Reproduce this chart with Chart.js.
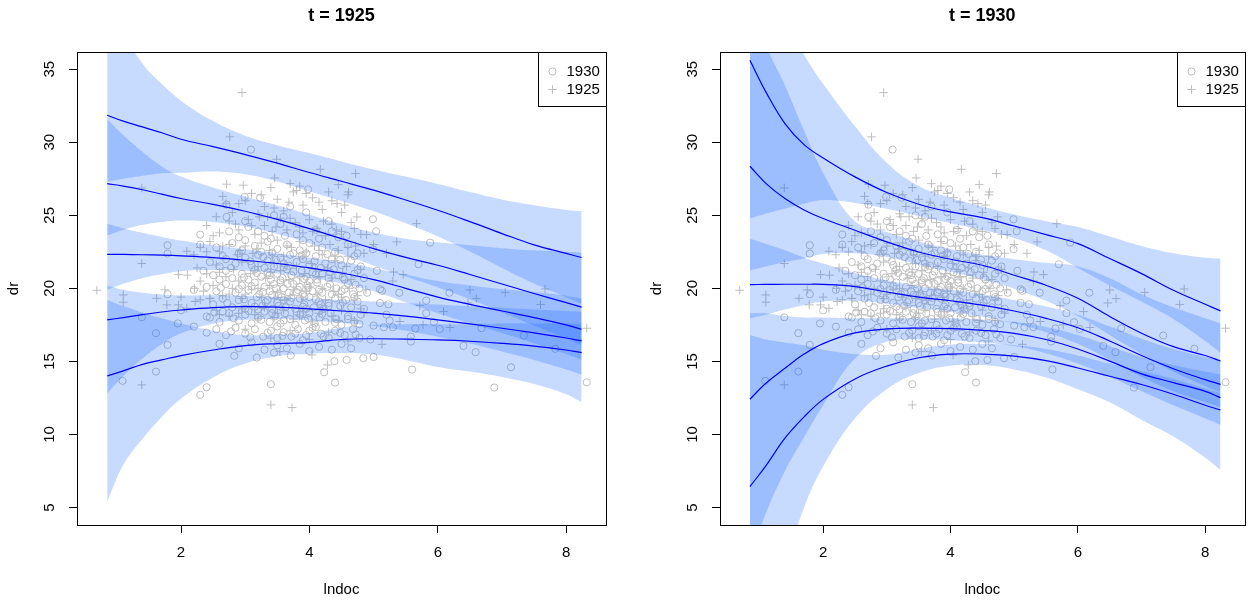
<!DOCTYPE html>
<html>
<head>
<meta charset="utf-8">
<title>dr vs lndoc quantile curves</title>
<script src="https://cdn.jsdelivr.net/npm/chart.js@4.4.1/dist/chart.umd.min.js"></script>
<style>
  html, body { margin: 0; padding: 0; background: #ffffff; }
  #wrap { position: relative; width: 1250px; height: 604px; overflow: hidden; }
  canvas { position: absolute; top: 0; }
</style>
</head>
<body>
<div id="wrap">
  <canvas id="c1925" width="625" height="604" style="left:0px"></canvas>
  <canvas id="c1930" width="625" height="604" style="left:625px"></canvas>
</div>
<script>
// ---- observations: lndoc (x) and dr (y) ----
const pts1930 = [
  [3.09,29.5],[3.98,26.78],[4.99,24.73],[5.04,23.91],[5.88,23.13],[5.7,21.65],[4.99,22.68],[2.99,26.26],
  [3.23,26.21],[2.71,25.73],[2.71,24.89],[2.3,23.68],[1.79,22.95],[1.79,22.38],[2.3,23.0],[5.1,19.94],
  [1.79,19.6],[1.39,18.02],[1.61,16.93],[1.79,16.13],[1.61,14.3],[1.09,13.67],[2.4,13.23],[2.3,12.71],
  [2.2,17.38],[2.4,16.97],[2.4,18.07],[2.83,15.38],[3.18,15.26],[3.4,13.44],[3.71,15.4],[4.23,14.26],
  [4.4,13.55],[4.39,15.01],[4.58,15.1],[4.84,15.22],[5.58,16.36],[5.58,16.7],[5.6,14.44],[6.4,16.06],
  [6.59,15.63],[6.88,13.21],[7.14,14.6],[7.34,16.77],[8.32,13.57],[6.18,19.7],[5.82,19.16],[5.94,17.68],
  [6.03,17.22],[5.65,17.25],[5.3,17.34],[5.16,17.34],[5.0,17.45],[5.23,18.91],[5.13,19.83],[6.68,17.27],
  [7.83,15.86],[5.82,18.3],[2.0,18.5],[2.2,19.9],[1.95,17.6],[5.1,19.0],[5.2,18.2],[5.05,21.2],
  [5.4,19.7],[5.25,17.8],[4.95,16.5],[5.0,15.3],
  [2.75,23.9],[3.05,24.2],[3.3,23.6],[3.55,24.4],[3.8,23.7],[4.1,24.0],[4.45,23.5],[3.0,23.3],
  [3.45,25.0],[3.7,25.6],[3.95,25.2],[4.3,24.6],
  [2.55,22.8],[2.8,23.1],[2.95,22.6],[3.15,22.9],[3.35,23.2],[3.5,22.7],[3.65,23.0],[3.85,22.6],
  [4.0,23.1],[4.2,22.8],[4.4,22.5],[4.6,23.0],[4.75,22.4],[3.25,22.5],[3.75,22.4],
  [2.45,21.8],[2.65,22.2],[2.85,21.7],[3.0,22.1],[3.1,21.6],[3.2,22.3],[3.35,21.9],[3.45,21.5],
  [3.55,22.1],[3.6,21.7],[3.7,22.3],[3.8,21.8],[3.9,22.0],[4.0,21.6],[4.1,22.2],[4.25,21.7],
  [4.35,22.0],[4.5,21.6],[4.65,21.9],[4.8,21.5],[2.6,21.5],[3.95,22.4],
  [2.5,20.9],[2.7,21.2],[2.8,20.7],[2.95,21.0],[3.05,20.6],[3.15,21.3],[3.25,20.8],[3.35,21.1],
  [3.4,20.6],[3.5,21.0],[3.58,20.7],[3.65,21.3],[3.72,20.9],[3.8,20.5],[3.88,21.2],[3.95,20.8],
  [4.05,21.1],[4.12,20.6],[4.2,21.0],[4.3,20.7],[4.38,21.3],[4.45,20.9],[4.55,20.6],[4.7,21.0],
  [4.85,20.7],[2.35,21.2],[3.3,21.4],[4.0,20.5],
  [2.4,20.1],[2.55,19.8],[2.7,20.3],[2.85,19.7],[2.95,20.2],[3.05,19.9],[3.15,20.4],[3.22,19.6],
  [3.3,20.1],[3.38,19.8],[3.45,20.3],[3.52,19.6],[3.6,20.0],[3.68,19.7],[3.75,20.3],[3.82,19.9],
  [3.9,19.6],[3.97,20.2],[4.05,19.8],[4.12,20.4],[4.2,19.7],[4.28,20.1],[4.35,19.6],[4.42,20.0],
  [4.5,19.8],[4.6,20.3],[4.68,19.6],[4.78,20.0],[4.9,19.7],[3.55,20.4],[3.85,20.1],
  [2.5,18.9],[2.65,19.3],[2.8,18.7],[2.9,19.2],[3.0,18.6],[3.1,19.0],[3.18,19.4],[3.27,18.8],
  [3.35,19.2],[3.42,18.6],[3.5,19.0],[3.57,19.4],[3.63,18.7],[3.7,19.1],[3.78,18.6],[3.85,19.3],
  [3.92,18.9],[4.0,19.4],[4.07,18.7],[4.15,19.1],[4.22,18.6],[4.3,19.0],[4.4,19.3],[4.48,18.8],
  [4.57,19.2],[4.65,18.7],[4.75,19.1],[4.85,18.6],[3.2,18.55],[3.95,18.6],
  [2.45,18.0],[2.6,17.7],[2.75,18.3],[2.9,17.8],[3.0,18.2],[3.1,17.6],[3.2,18.0],[3.3,18.4],
  [3.38,17.7],[3.47,18.1],[3.55,17.6],[3.62,18.3],[3.7,17.9],[3.78,17.5],[3.86,18.2],[3.93,17.8],
  [4.0,18.3],[4.08,17.6],[4.16,18.0],[4.25,17.7],[4.33,18.3],[4.42,17.9],[4.5,17.5],[4.6,18.1],
  [4.7,17.7],[4.8,18.2],[2.65,18.4],
  [2.55,17.2],[2.7,16.8],[2.85,17.3],[3.0,16.9],[3.15,17.2],[3.28,16.7],[3.4,17.1],[3.5,16.6],
  [3.6,17.0],[3.72,16.7],[3.82,17.2],[3.95,16.8],[4.05,17.3],[4.18,16.9],[4.3,16.6],[4.4,17.1],
  [4.55,16.8],[4.68,17.2],[4.78,16.6],
  [2.6,16.2],[2.9,15.9],[3.1,16.3],[3.3,15.8],[3.5,16.1],[3.65,15.9],[3.85,16.2],[4.0,15.7],
  [4.15,16.0],[4.35,15.8],[4.5,16.2],[4.65,15.9],[3.45,15.6],
  [2.7,22.0],[2.9,22.4],[3.08,21.85],[3.28,22.15],[3.48,21.95],[3.68,21.55],[3.88,22.25],[4.08,21.85],
  [4.28,22.35],[4.48,21.95],[4.7,22.2],[3.42,22.45],
  [2.6,20.6],[2.78,21.4],[2.98,20.75],[3.18,21.05],[3.38,20.9],[3.55,20.55],[3.75,21.15],[3.92,20.65],
  [4.1,20.95],[4.32,21.1],[4.52,20.75],[4.75,21.25],[3.6,21.45],[4.18,21.4],
  [2.62,20.05],[2.9,19.95],[3.1,20.15],[3.28,19.75],[3.48,20.0],[3.66,20.3],[3.8,19.75],[3.98,20.05],
  [4.15,19.9],[4.32,20.3],[4.55,19.95],[4.72,20.25],[3.42,19.55],[3.92,19.45],
  [2.72,19.0],[2.98,19.25],[3.15,18.75],[3.32,19.05],[3.52,18.8],[3.72,19.35],[3.9,18.75],[4.1,19.25],
  [4.3,18.8],[4.52,19.05],[4.7,19.4],[3.6,19.2],[4.18,18.9],
  [2.52,18.35],[2.82,17.95],[3.05,18.45],[3.25,17.85],[3.42,18.3],[3.6,17.8],[3.8,18.4],[3.98,17.95],
  [4.2,18.25],[4.4,17.65],[4.6,17.9],[4.78,17.55],[3.5,17.4],[4.1,17.35],
  [2.78,17.05],[3.08,16.65],[3.35,16.95],[3.58,16.75],[3.78,16.9],[4.0,17.1],[4.22,16.7],[4.48,16.95],
  [4.72,16.85],[3.9,16.45],
  [2.9,23.5],[3.2,23.9],[3.4,23.4],[3.62,23.6],[3.9,23.3],[4.15,23.4],[4.35,23.9],[4.58,23.6],
  [3.0,24.6],[3.6,24.9]
];
const pts1925 = [
  [2.95,33.4],[2.76,30.37],[3.49,28.84],[4.17,28.15],[4.72,27.86],[3.46,27.56],[2.71,27.13],[2.97,27.06],
  [1.39,26.87],[3.7,27.17],[3.8,26.7],[4.43,25.8],[4.61,26.6],[4.74,24.89],[5.67,24.43],[5.36,23.18],
  [4.89,23.68],[5.31,21.12],[5.46,20.94],[1.39,21.7],[2.09,22.54],[1.96,20.94],[0.69,19.87],[1.1,19.55],
  [1.1,19.05],[1.62,19.32],[1.78,18.87],[1.96,18.87],[2.09,18.64],[2.22,19.1],[2.3,19.21],[2.45,19.32],
  [2.21,20.0],[1.39,13.39],[3.4,12.02],[3.73,11.84],[4.28,14.76],[5.13,16.17],[5.41,17.73],[5.77,17.5],
  [6.09,18.41],[6.19,17.32],[8.32,17.27],[7.05,19.73],[6.5,19.89],[7.67,19.96],[5.72,18.82],[3.54,15.67],
  [4.04,15.44],[6.47,19.0],[6.6,19.3],[7.6,18.9],[2.0,19.4],[1.75,19.9],[5.3,20.5],[5.2,22.4],[5.0,23.0],
  [2.65,26.3],[2.9,25.8],[3.1,26.5],[3.3,25.6],[3.5,26.1],[3.6,25.3],[3.75,26.6],[3.9,25.7],
  [4.05,26.2],[4.2,25.4],[4.35,26.0],[4.5,25.2],[4.6,26.4],[3.2,25.1],[3.4,26.9],[2.8,25.2],
  [4.45,27.1],[3.85,27.0],
  [2.4,24.3],[2.6,23.8],[2.75,24.6],[2.9,24.0],[3.05,24.7],[3.15,23.7],[3.3,24.3],[3.42,23.9],
  [3.55,24.8],[3.65,24.0],[3.78,24.5],[3.9,23.8],[4.0,24.7],[4.12,24.1],[4.25,23.6],[4.35,24.4],
  [4.5,23.9],[4.65,24.5],[4.8,23.7],[2.5,23.6],[3.35,24.9],
  [2.3,22.8],[2.45,23.2],[2.6,22.5],[2.75,23.0],[2.88,22.3],[3.0,22.9],[3.12,22.4],[3.25,23.1],
  [3.38,22.6],[3.5,23.3],[3.6,22.2],[3.72,22.8],[3.85,23.2],[3.95,22.5],[4.08,22.9],[4.2,22.3],
  [4.32,23.0],[4.45,22.6],[4.6,22.2],[4.72,22.9],[4.85,22.4],[2.2,22.3],
  [2.25,21.4],[2.4,21.0],[2.55,21.6],[2.7,20.8],[2.82,21.3],[2.95,21.8],[3.08,21.0],[3.2,21.5],
  [3.32,20.7],[3.45,21.7],[3.55,21.2],[3.68,20.6],[3.8,21.5],[3.92,21.0],[4.03,21.7],[4.15,20.8],
  [4.28,21.4],[4.4,21.9],[4.52,21.1],[4.65,20.6],[4.8,21.3],[2.1,20.9],
  [2.35,19.8],[2.5,20.2],[2.65,19.5],[2.8,20.0],[2.95,19.3],[3.1,19.9],[3.25,19.4],[3.38,20.2],
  [3.5,19.7],[3.62,19.2],[3.75,19.9],[3.88,19.4],[4.0,20.1],[4.12,19.6],[4.25,19.2],[4.38,19.8],
  [4.5,19.4],[4.62,20.0],[4.75,19.5],[4.88,19.9],
  [2.55,18.5],[2.75,18.1],[2.95,18.6],[3.15,18.2],[3.3,18.7],[3.45,18.0],[3.6,18.5],[3.75,17.9],
  [3.9,18.4],[4.05,17.7],[4.2,18.6],[4.35,18.1],[4.5,18.5],[4.7,17.8],[4.85,18.3],
  [3.0,17.2],[3.4,16.6],[3.7,17.1],[4.0,16.5],[4.3,17.0],[4.6,16.4],
  [2.7,25.8],[3.0,26.0],[3.25,26.4],[3.45,25.5],[3.68,25.9],[3.95,26.5],[4.15,25.9],[4.3,26.6],[4.55,25.7],
  [2.55,24.9],[2.85,24.4],[3.1,24.3],[3.22,24.9],[3.48,24.2],[3.7,24.8],[3.85,24.2],[4.05,23.9],[4.22,24.6],
  [4.42,24.0],[4.7,24.1],
  [2.4,22.5],[2.65,22.9],[2.92,22.6],[3.18,22.7],[3.42,22.3],[3.65,22.9],[3.9,22.2],[4.15,22.6],[4.4,22.2],[4.6,22.8],
  [2.3,20.5],[2.6,21.1],[2.9,20.5],[3.15,21.2],[3.4,21.1],[3.62,21.6],[3.85,20.8],[4.1,21.3],[4.35,20.7],[4.58,21.5],
  [2.45,19.3],[2.75,19.6],[3.0,19.6],[3.2,20.0],[3.45,19.3],[3.7,19.5],[3.95,19.8],[4.2,20.0],[4.45,19.6],[4.7,19.2],
  [2.6,18.2],[2.9,18.3],[3.2,17.9],[3.5,18.3],[3.85,18.1],[4.15,18.3],[4.45,17.8],[4.8,18.6]
];

// ---- fitted curves, evaluated on a common lndoc grid ----
const gridX = [0.85, 1.1, 1.4, 1.7, 2.0, 2.5, 3.0, 3.5, 4.0, 4.5, 5.0, 5.5, 6.0, 6.5, 7.0, 7.5, 8.0, 8.24];

// t = 1925: five quantile curves and their bands (upper / lower)
const q1925_1 = [31.85, 31.45, 31.05, 30.65, 30.21, 29.7, 29.16, 28.57, 27.93, 27.33, 26.72, 26.05, 25.35, 24.57, 23.75, 22.98, 22.39, 22.11];
const q1925_2 = [27.17, 27.0, 26.75, 26.45, 26.15, 25.75, 25.28, 24.72, 24.09, 23.4, 22.72, 22.12, 21.58, 20.95, 20.3, 19.65, 19.02, 18.71];
const q1925_3 = [22.33, 22.32, 22.3, 22.27, 22.22, 22.1, 21.92, 21.7, 21.4, 21.05, 20.6, 20.0, 19.4, 18.9, 18.45, 18.0, 17.5, 17.2];
const q1925_4 = [17.84, 18.0, 18.2, 18.38, 18.52, 18.68, 18.75, 18.72, 18.6, 18.45, 18.3, 18.1, 17.84, 17.57, 17.27, 16.95, 16.6, 16.4];
const q1925_5 = [14.0, 14.35, 14.8, 15.1, 15.4, 15.78, 16.08, 16.22, 16.3, 16.5, 16.55, 16.52, 16.47, 16.38, 16.24, 16.05, 15.78, 15.6];

const hi1925_1 = [41.0, 37.6, 35.4, 34.0, 32.85, 31.45, 30.45, 29.8, 29.26, 28.69, 28.14, 27.65, 27.15, 26.6, 26.09, 25.69, 25.37, 25.28];
const lo1925_1 = [27.3, 27.5, 27.7, 27.88, 27.91, 28.0, 27.81, 27.32, 26.63, 25.98, 25.27, 24.45, 23.55, 22.52, 21.4, 20.33, 19.39, 18.94];
const hi1925_2 = [31.6, 30.5, 29.35, 28.35, 27.65, 26.9, 26.28, 25.67, 25.04, 24.4, 23.82, 23.4, 23.15, 22.95, 22.75, 22.6, 22.5, 22.45];
const lo1925_2 = [23.63, 24.0, 24.35, 24.55, 24.65, 24.55, 24.23, 23.72, 23.09, 22.35, 21.57, 20.82, 20.08, 19.25, 18.35, 17.45, 16.57, 16.11];
const hi1925_3 = [24.43, 24.12, 23.8, 23.52, 23.27, 22.95, 22.67, 22.4, 22.1, 21.8, 21.4, 20.95, 20.5, 20.2, 19.95, 19.75, 19.5, 19.3];
const lo1925_3 = [19.9, 20.32, 20.7, 20.97, 21.17, 21.25, 21.2, 21.02, 20.72, 20.33, 19.8, 19.05, 18.3, 17.6, 16.95, 16.25, 15.5, 15.1];
const hi1925_4 = [20.2, 19.9, 19.7, 19.58, 19.52, 19.53, 19.5, 19.42, 19.3, 19.2, 19.1, 19.0, 18.89, 18.77, 18.67, 18.55, 18.45, 18.4];
const lo1925_4 = [12.8, 14.0, 15.2, 16.18, 16.92, 17.58, 17.85, 17.9, 17.8, 17.63, 17.42, 17.1, 16.69, 16.22, 15.67, 15.1, 14.45, 14.1];
const hi1925_5 = [19.21, 18.8, 18.35, 17.95, 17.6, 17.1, 16.8, 16.85, 16.95, 17.3, 17.5, 17.55, 17.55, 17.55, 17.6, 17.6, 17.6, 17.6];
const lo1925_5 = [5.4, 7.9, 9.7, 11.2, 12.45, 13.9, 14.85, 15.35, 15.52, 15.57, 15.47, 15.1, 14.62, 14.3, 13.93, 13.45, 12.75, 12.2];

// t = 1930
const q1930_1 = [35.61, 33.45, 31.28, 29.84, 28.93, 27.63, 26.56, 25.76, 25.23, 24.84, 24.27, 23.68, 23.06, 22.04, 21.01, 19.87, 18.91, 18.46];
const q1930_2 = [28.36, 27.19, 26.15, 25.37, 24.78, 23.98, 23.18, 22.49, 21.99, 21.58, 20.9, 20.21, 19.32, 18.07, 16.93, 16.01, 15.4, 15.03];
const q1930_3 = [20.26, 20.27, 20.28, 20.28, 20.27, 20.12, 19.75, 19.4, 19.15, 18.85, 18.45, 17.95, 17.3, 16.4, 15.4, 14.5, 13.75, 13.43];
const q1930_4 = [12.41, 13.5, 14.53, 15.5, 16.22, 16.95, 17.22, 17.28, 17.24, 17.13, 16.92, 16.5, 15.85, 15.02, 14.15, 13.55, 12.95, 12.52];
const q1930_5 = [6.43, 7.85, 9.74, 11.2, 12.4, 13.8, 14.68, 15.25, 15.5, 15.5, 15.36, 15.05, 14.55, 13.98, 13.42, 12.75, 12.0, 11.68];

const hi1930_1 = [46.0, 42.0, 38.5, 36.0, 34.0, 31.1, 28.6, 27.0, 26.2, 25.6, 25.05, 24.6, 24.2, 23.55, 22.9, 22.4, 22.1, 22.04];
const lo1930_1 = [24.78, 25.1, 25.46, 25.8, 26.05, 25.85, 25.45, 24.95, 24.45, 24.0, 23.45, 22.6, 21.4, 20.2, 19.1, 17.9, 16.4, 15.6];
const hi1930_2 = [44.0, 36.9, 33.9, 30.8, 27.9, 24.6, 23.85, 23.2, 22.7, 22.3, 22.0, 21.75, 21.5, 20.7, 19.6, 18.7, 17.95, 17.6];
const lo1930_2 = [21.24, 21.5, 21.8, 22.05, 22.35, 22.4, 22.15, 21.62, 21.13, 20.62, 19.98, 19.15, 18.1, 16.8, 15.5, 14.3, 13.3, 12.9];
const hi1930_3 = [23.4, 23.05, 22.6, 22.1, 21.7, 21.05, 20.55, 20.15, 19.9, 19.6, 19.2, 18.75, 18.2, 17.4, 16.55, 15.85, 15.3, 15.1];
const lo1930_3 = [17.95, 18.2, 18.55, 18.85, 19.1, 19.15, 18.95, 18.65, 18.4, 18.05, 17.6, 17.0, 16.2, 15.1, 13.95, 12.95, 12.2, 11.85];
const hi1930_4 = [18.3, 18.3, 18.1, 18.0, 18.0, 17.95, 17.95, 17.95, 17.95, 17.85, 17.7, 17.35, 16.8, 16.05, 15.3, 14.75, 14.3, 14.1];
const lo1930_4 = [1.5, 4.6, 7.5, 9.8, 12.0, 15.2, 16.35, 16.5, 16.45, 16.3, 16.05, 15.55, 14.85, 13.95, 12.95, 12.0, 11.1, 10.65];
const hi1930_5 = [16.8, 16.5, 16.3, 16.1, 15.8, 15.5, 15.45, 15.85, 16.15, 16.2, 16.1, 15.85, 15.4, 14.85, 14.35, 13.8, 13.15, 12.85];
const lo1930_5 = [-6.0, -2.5, 1.0, 5.0, 7.8, 11.1, 13.1, 14.2, 14.7, 14.75, 14.45, 13.9, 13.1, 12.2, 11.0, 9.85, 8.4, 7.57];

// ---- axis ranges and ticks ----
const xRange = [0.38, 8.62];
const yRange = [3.8, 36.18];
const xTickStep = 2;
const yTickStep = 5;
const legendLabels = ['1930', '1925'];

// ---- styling ----
const FONT = '"Liberation Sans", Arial, Helvetica, sans-serif';
const BAND_FILL = 'rgba(20,100,255,0.24)';
const CURVE_COLOR = '#0000FF';
const POINT_COLOR = '#BEBEBE';

Chart.defaults.font.family = FONT;
Chart.defaults.color = '#000';

const onGrid = ys => ys.map((y, i) => ({ x: gridX[i], y }));
const asXY = pts => pts.map(p => ({ x: p[0], y: p[1] }));

// Plot frame, panel title and the point legend
const framePlugin = {
  id: 'frame',
  afterDraw(chart, args, opts) {
    const { ctx, chartArea: a } = chart;
    ctx.save();
    ctx.strokeStyle = '#000';
    ctx.lineWidth = 1;
    const L = Math.round(a.left) + 0.5, T = Math.round(a.top) + 0.5;
    const R = Math.round(a.right) + 0.5, B = Math.round(a.bottom) + 0.5;
    ctx.strokeRect(L, T, R - L, B - T);

    // title
    ctx.fillStyle = '#000';
    ctx.font = 'bold 18px ' + FONT;
    ctx.textAlign = 'center';
    ctx.textBaseline = 'middle';
    ctx.fillText(opts.title, (a.left + a.right) / 2, 16);

    // legend (top-right inside the frame)
    const lw = 68, lh = 54;
    const lx = R - lw, ly = T;
    ctx.fillStyle = '#fff';
    ctx.fillRect(lx, ly, lw, lh);
    ctx.strokeRect(lx, ly, lw, lh);
    ctx.strokeStyle = POINT_COLOR;
    ctx.lineWidth = 1;
    const sx = lx + 14;
    ctx.beginPath();
    ctx.arc(sx, ly + 19, 3.6, 0, Math.PI * 2);
    ctx.stroke();
    ctx.beginPath();
    ctx.moveTo(sx - 4.3, ly + 37); ctx.lineTo(sx + 4.3, ly + 37);
    ctx.moveTo(sx, ly + 37 - 4.3); ctx.lineTo(sx, ly + 37 + 4.3);
    ctx.stroke();
    ctx.fillStyle = '#000';
    ctx.font = '15px ' + FONT;
    ctx.textAlign = 'left';
    ctx.fillText(legendLabels[0], lx + 28, ly + 19);
    ctx.fillText(legendLabels[1], lx + 28, ly + 37);
    ctx.restore();
  }
};

function buildDatasets(curves, bands) {
  const ds = [];
  ds.push({
    label: legendLabels[0], data: asXY(pts1930), showLine: false,
    pointStyle: 'circle', pointRadius: 3.6, pointBorderWidth: 1,
    pointBorderColor: POINT_COLOR, pointBackgroundColor: 'rgba(0,0,0,0)', order: 3
  });
  ds.push({
    label: legendLabels[1], data: asXY(pts1925), showLine: false,
    pointStyle: 'cross', pointRadius: 4.3, pointBorderWidth: 1,
    pointBorderColor: POINT_COLOR, pointBackgroundColor: 'rgba(0,0,0,0)', order: 3
  });
  bands.forEach(([hi, lo]) => {
    ds.push({
      data: onGrid(hi), fill: '+1', backgroundColor: BAND_FILL,
      borderColor: 'rgba(0,0,0,0)', borderWidth: 0, pointRadius: 0,
      tension: 0.4, order: 2
    });
    ds.push({
      data: onGrid(lo), fill: false,
      borderColor: 'rgba(0,0,0,0)', borderWidth: 0, pointRadius: 0,
      tension: 0.4, order: 2
    });
  });
  curves.forEach(q => {
    ds.push({
      data: onGrid(q), fill: false, borderColor: CURVE_COLOR, borderWidth: 1.2,
      pointRadius: 0, tension: 0.4, order: 1
    });
  });
  return ds;
}

function makePanel(canvasId, title, curves, bands, padLeft, padRight) {
  const tickFont = { size: 15, family: FONT };
  return new Chart(document.getElementById(canvasId), {
    type: 'line',
    data: { datasets: buildDatasets(curves, bands) },
    options: {
      responsive: false,
      animation: false,
      events: [],
      devicePixelRatio: 1,
      layout: { padding: { left: padLeft, right: padRight, top: 52, bottom: 0 } },
      plugins: {
        legend: { display: false },
        tooltip: { enabled: false },
        frame: { title }
      },
      scales: {
        x: {
          type: 'linear', min: xRange[0], max: xRange[1],
          afterFit(s) { s.height = 79; },
          ticks: { stepSize: xTickStep, includeBounds: false, padding: 11, color: '#000',
                   font: tickFont, maxRotation: 0, autoSkip: false },
          grid: { drawOnChartArea: false, drawTicks: true, tickLength: 8, color: '#000', lineWidth: 1 },
          border: { display: false },
          title: { display: true, text: 'lndoc', color: '#000', font: tickFont, padding: { top: 0, bottom: 5 } }
        },
        y: {
          type: 'linear', min: yRange[0], max: yRange[1],
          afterFit(s) { s.width = 77; },
          ticks: { stepSize: yTickStep, includeBounds: false, padding: 11, color: '#000',
                   font: tickFont, minRotation: 90, maxRotation: 90, crossAlign: 'center' },
          grid: { drawOnChartArea: false, drawTicks: true, tickLength: 8, color: '#000', lineWidth: 1 },
          border: { display: false },
          title: { display: true, text: 'dr', color: '#000', font: tickFont, padding: { top: 5, bottom: 0 } }
        }
      }
    },
    plugins: [framePlugin]
  });
}

makePanel('c1925', 't = 1925',
  [q1925_1, q1925_2, q1925_3, q1925_4, q1925_5],
  [[hi1925_1, lo1925_1], [hi1925_2, lo1925_2], [hi1925_3, lo1925_3], [hi1925_4, lo1925_4], [hi1925_5, lo1925_5]],
  0, 19);

makePanel('c1930', 't = 1930',
  [q1930_1, q1930_2, q1930_3, q1930_4, q1930_5],
  [[hi1930_1, lo1930_1], [hi1930_2, lo1930_2], [hi1930_3, lo1930_3], [hi1930_4, lo1930_4], [hi1930_5, lo1930_5]],
  18, 1);
</script>
</body>
</html>
